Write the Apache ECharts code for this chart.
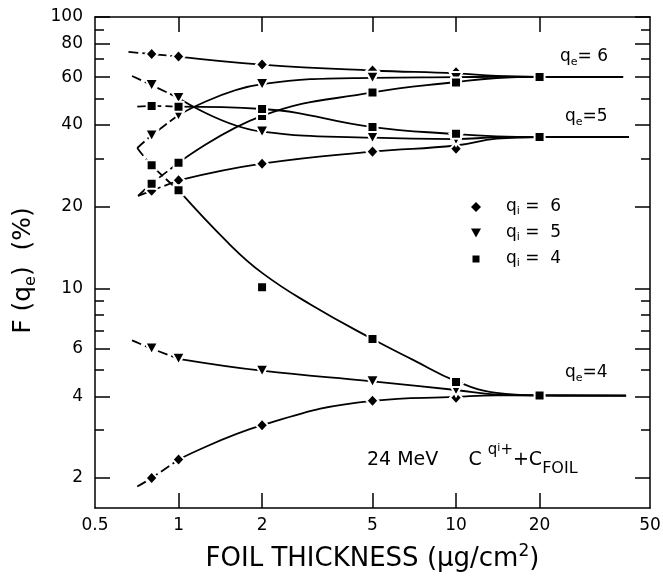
<!DOCTYPE html>
<html>
<head>
<meta charset="utf-8">
<script src="https://cdn.jsdelivr.net/npm/echarts@6/dist/echarts.min.js"></script>
<style>
html, body { margin: 0; padding: 0; background: #fff; }
#chart { width: 663px; height: 578px; }
</style>
</head>
<body>
<div id="chart"></div>
<script>
// foil thickness of the measured points (ug/cm2)
const xMarks = [0.8, 1, 2, 5, 10];
const xMarksSq = [0.8, 1, 2, 5, 10, 20];

// F(qe) in %, q_i = 6 (diamonds)
const qi6_qe6 = [73, 71.5, 66.8, 63.5, 62.5];
const qi6_qe5 = [22.9, 25.0, 28.8, 31.9, 32.7];
const qi6_qe4 = [2.0, 2.34, 3.13, 3.85, 3.95];
// q_i = 5 (triangles)
const qi5_qe6 = [36.6, 43.5, 56.6, 59.7, 59.6];
const qi5_qe5 = [56.1, 50.3, 37.8, 35.9, 35.3];
const qi5_qe4 = [6.0, 5.5, 4.97, 4.54, 4.22];
// q_i = 4 (squares)
const qi4_qe6 = [24.3, 29.0, 43.2, 52.7, 57.4, 60.1];
const qi4_qe5 = [47.0, 46.7, 45.8, 39.3, 37.1, 36.1];
const qi4_qe4 = [28.4, 23.0, 10.1, 6.5, 4.52, 4.03];

// hand drawn curves, [thickness, F]
const line_qi6_qe6 = [[0.66, 74.4], [0.8, 73], [1, 71.5], [2, 66.8], [5, 63.5], [10, 62.0], [14, 60.6], [20, 60.2], [40, 60.2]];
const line_qi5_qe6 = [[0.71, 32.9], [0.8, 36.6], [1, 43.5], [2, 56.6], [5, 59.7], [10, 60.0], [14, 60.2], [20, 60.2], [40, 60.2]];
const line_qi4_qe6 = [[0.715, 21.9], [0.8, 24.3], [1, 29.0], [2, 43.2], [5, 52.7], [10, 57.6], [14, 59.6], [20, 60.2], [40, 60.2]];
const line_qi6_qe5 = [[0.715, 21.9], [0.8, 22.9], [1, 25.0], [2, 28.8], [5, 31.9], [10, 33.6], [14, 35.6], [20, 36.1], [42, 36.1]];
const line_qi5_qe5 = [[0.68, 60.6], [0.8, 56.1], [1, 50.3], [2, 37.8], [5, 35.9], [10, 35.5], [14, 36.0], [20, 36.1], [42, 36.1]];
const line_qi4_qe5 = [[0.71, 46.7], [0.8, 47.0], [1, 46.7], [2, 45.8], [5, 39.3], [10, 37.0], [14, 36.3], [20, 36.1], [42, 36.1]];
const line_qi6_qe4 = [[0.71, 1.86], [0.8, 2.0], [1, 2.34], [2, 3.13], [5, 3.85], [10, 3.98], [14, 4.03], [20, 4.03], [41, 4.02]];
const line_qi5_qe4 = [[0.68, 6.43], [0.8, 6.0], [1, 5.5], [2, 4.97], [5, 4.54], [10, 4.22], [14, 4.06], [20, 4.03], [41, 4.02]];
const line_qi4_qe4 = [[0.71, 32.9], [0.8, 28.4], [1, 23.0], [1.5, 14.8], [2, 11.4], [3, 8.7], [5, 6.5], [7, 5.45], [10, 4.55], [14, 4.12], [20, 4.03], [41, 4.02]];

// axis ticks
const xLabels = [0.5, 1, 2, 5, 10, 20, 50];
const xInnerTicks = [1, 2, 5, 10, 20];
const yMajor = [2, 4, 6, 10, 20, 40, 60, 80, 100];
const yMinor = [3, 5, 7, 8, 9, 30, 50, 70, 90];

const FONT = 'DejaVu Sans';
const INK = '#000';
const TRI = 'path://M0,0L10,0L5,9Z';

const pts = (xs, ys) => xs.map((x, i) => [x, ys[i]]);
const nearest = (arr, v) => arr.reduce((a, b) => Math.abs(Math.log(b / v)) < Math.abs(Math.log(a / v)) ? b : a);

const curves = [line_qi6_qe6, line_qi5_qe6, line_qi4_qe6, line_qi6_qe5, line_qi5_qe5,
  line_qi4_qe5, line_qi6_qe4, line_qi5_qe4, line_qi4_qe4];

const series = [];
curves.forEach((c) => {
  const base = { type: 'line', symbol: 'none', smooth: 0.45, silent: true, z: 2 };
  series.push({ ...base, data: c.filter(p => p[0] <= 1), lineStyle: { color: INK, width: 1.8, type: [10, 4] } });
  series.push({ ...base, data: c.filter(p => p[0] >= 1), lineStyle: { color: INK, width: 1.8 } });
});

const markStyle = { color: INK, opacity: 1, borderColor: '#fff', borderWidth: 2 };
series.push({
  type: 'scatter', name: 'qi6', symbol: 'diamond', symbolSize: [12, 13], itemStyle: markStyle, z: 5,
  data: [...pts(xMarks, qi6_qe6), ...pts(xMarks, qi6_qe5), ...pts(xMarks, qi6_qe4)],
});
series.push({
  type: 'scatter', name: 'qi5', symbol: TRI, symbolSize: [13, 12], itemStyle: markStyle, z: 5,
  data: [...pts(xMarks, qi5_qe6), ...pts(xMarks, qi5_qe5), ...pts(xMarks, qi5_qe4)],
});
series.push({
  type: 'scatter', name: 'qi4', symbol: 'rect', symbolSize: 10, itemStyle: markStyle, z: 5,
  data: [...pts(xMarksSq, qi4_qe6), ...pts(xMarksSq, qi4_qe5), ...pts(xMarksSq, qi4_qe4)],
});

const axisLine = { show: true, lineStyle: { color: INK, width: 1.5 } };
const tickLine = { color: INK, width: 1.5 };

const yBase = {
  type: 'log', logBase: 10, min: 1.55, max: 100,
  splitLine: { show: false },
  axisLine,
  axisLabel: { show: false },
};

const xBase = {
  type: 'log', logBase: 10, min: 0.5, max: 50,
  splitLine: { show: false },
  axisLine,
};

const option = {
  animation: false,
  backgroundColor: '#fff',
  grid: { left: 95, right: 13, top: 17, bottom: 70, outerBoundsMode: 'none' },
  xAxis: [
    {
      ...xBase,
      position: 'bottom',
      axisTick: { inside: true, length: 15, lineStyle: tickLine, customValues: xInnerTicks },
      axisLabel: {
        customValues: xLabels, margin: 9, color: INK, fontSize: 17, fontFamily: FONT,
        formatter: v => String(nearest(xLabels, v)),
      },
      name: 'FOIL THICKNESS (μg/cm{sup|2})',
      nameLocation: 'middle',
      nameGap: 35,
      nameTextStyle: {
        color: INK, fontSize: 26, fontFamily: FONT, lineHeight: 32,
        rich: { sup: { color: INK, fontSize: 17, fontFamily: FONT, lineHeight: 16, verticalAlign: 'top' } },
      },
    },
    {
      ...xBase,
      position: 'top',
      axisTick: { inside: true, length: 15, lineStyle: tickLine, customValues: xInnerTicks },
      axisLabel: { show: false },
    },
  ],
  yAxis: [
    {
      ...yBase,
      position: 'left',
      axisTick: { inside: true, length: 15, lineStyle: tickLine, customValues: yMajor },
      axisLabel: {
        show: true, customValues: yMajor, margin: 12, color: INK, fontSize: 17, fontFamily: FONT,
        formatter: v => String(nearest(yMajor, v)),
      },
      name: 'F (q{s|e})  (%)',
      nameLocation: 'middle',
      nameGap: 56,
      nameTextStyle: {
        color: INK, fontSize: 25, fontFamily: FONT, lineHeight: 32, padding: [0, 16, 0, 0],
        rich: { s: { color: INK, fontSize: 16, fontFamily: FONT, lineHeight: 16, verticalAlign: 'bottom' } },
      },
    },
    {
      ...yBase,
      position: 'left',
      axisLine: { show: false },
      axisTick: { inside: true, length: 9, lineStyle: tickLine, customValues: yMinor },
    },
    {
      ...yBase,
      position: 'right',
      axisTick: { inside: true, length: 15, lineStyle: tickLine, customValues: yMajor },
    },
    {
      ...yBase,
      position: 'right',
      axisLine: { show: false },
      axisTick: { inside: true, length: 9, lineStyle: tickLine, customValues: yMinor },
    },
  ],
  legend: {
    orient: 'vertical',
    left: 471,
    top: 197,
    padding: 0,
    itemWidth: 10,
    itemHeight: 10,
    itemGap: 6,
    itemStyle: { borderWidth: 0, opacity: 1 },
    data: [
      { name: 'qi6', icon: 'diamond' },
      { name: 'qi5', icon: TRI },
      { name: 'qi4', icon: 'path://M0,0M1.5,1.5h7v7h-7zM10,10' },
    ],
    formatter: name => 'q{s|i} =  ' + name.slice(2),
    textStyle: {
      color: INK, fontSize: 17, fontFamily: FONT, lineHeight: 20, padding: [0, 0, 0, 20],
      rich: { s: { color: INK, fontSize: 11, fontFamily: FONT, lineHeight: 11, verticalAlign: 'bottom' } },
    },
  },
  graphic: [
    {
      type: 'text', x: 560, y: 57,
      style: {
        text: 'q{s|e}= 6', fill: INK, fontSize: 17, fontFamily: FONT, lineHeight: 22, verticalAlign: 'middle',
        rich: { s: { fill: INK, fontSize: 11, fontFamily: FONT, lineHeight: 11, verticalAlign: 'bottom' } },
      },
    },
    {
      type: 'text', x: 565, y: 117,
      style: {
        text: 'q{s|e}=5', fill: INK, fontSize: 17, fontFamily: FONT, lineHeight: 22, verticalAlign: 'middle',
        rich: { s: { fill: INK, fontSize: 11, fontFamily: FONT, lineHeight: 11, verticalAlign: 'bottom' } },
      },
    },
    {
      type: 'text', x: 565, y: 373,
      style: {
        text: 'q{s|e}=4', fill: INK, fontSize: 17, fontFamily: FONT, lineHeight: 22, verticalAlign: 'middle',
        rich: { s: { fill: INK, fontSize: 11, fontFamily: FONT, lineHeight: 11, verticalAlign: 'bottom' } },
      },
    },
    {
      type: 'text', x: 367, y: 460,
      style: {
        text: '24 MeV     C {sup|q}{supi|i}{sup|+}+C{sub|FOIL}',
        fill: INK, fontSize: 19, fontFamily: FONT, lineHeight: 34, verticalAlign: 'middle',
        rich: {
          sup: { fill: INK, fontSize: 15, fontFamily: FONT, lineHeight: 15, verticalAlign: 'top' },
          supi: { fill: INK, fontSize: 11, fontFamily: FONT, lineHeight: 23, verticalAlign: 'top' },
          sub: { fill: INK, fontSize: 16, fontFamily: FONT, lineHeight: 26, verticalAlign: 'bottom' },
        },
      },
    },
  ],
  series,
};

const chart = echarts.init(document.getElementById('chart'));
chart.setOption(option);
</script>
</body>
</html>
